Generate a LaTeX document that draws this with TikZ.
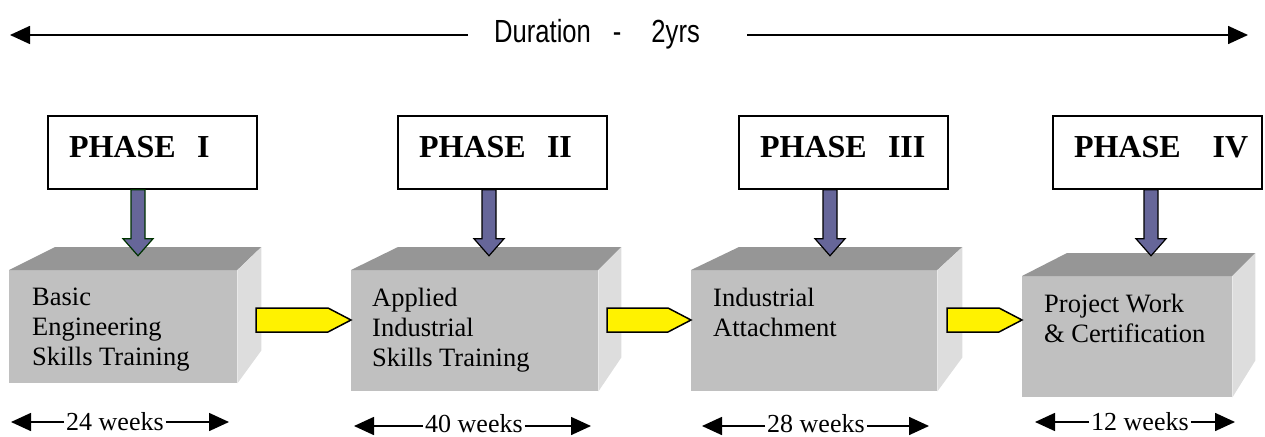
\documentclass[tikz,border=0pt]{standalone}
\usepackage{fontspec}
\usetikzlibrary{arrows.meta,calc}
\setmainfont{Liberation Serif}
\newfontfamily\durfont[FakeStretch=0.8]{Liberation Sans}
\definecolor{frontgrey}{HTML}{C0C0C0}
\definecolor{topgrey}{HTML}{969696}
\definecolor{sidegrey}{HTML}{DDDDDD}
\definecolor{phaseblue}{HTML}{666699}
\definecolor{darkgreen}{RGB}{0,51,0}
\tikzstyle{phase}=[draw,line width=1.5pt,minimum width=209pt,minimum height=73pt,inner xsep=21pt,inner ysep=0pt,text width=167pt,align=left,text height=41pt,text depth=32pt,font=\fontsize{32}{38}\selectfont\bfseries]
\tikzstyle{front}=[fill=frontgrey,anchor=north west,inner sep=0pt]
\tikzstyle{cubetext}=[anchor=north west,inner sep=0pt,align=left,font=\fontsize{26.5}{30}\selectfont]
\tikzstyle{weeks}=[anchor=base west,inner xsep=2pt,inner ysep=0pt,font=\fontsize{26}{30}\selectfont]
\tikzstyle{downarrow}=[fill=phaseblue,draw=black,line width=1.2pt]
\tikzstyle{yellowarrow}=[fill=yellow,draw=black,line width=1.5pt]
\tikzstyle{span}=[line width=1.6pt,-{Triangle[length=20pt,width=18pt]}]
\newcommand{\pxunit}{1pt}

\begin{document}
\begin{tikzpicture}[x=\pxunit,y=-\pxunit]
    \useasboundingbox (0,0) rectangle (1265,436);
%   duration
    \node[anchor=base west,inner sep=0pt,font=\durfont\fontsize{32}{38}\selectfont] (dur) at (494,42) {Duration\hspace{22pt}-\hspace{30pt}2yrs};
    \coordinate (durL) at (10,35);
    \coordinate (durR) at (1248,35);
    \draw[span,shorten <=26pt] (dur.west |- durL) -- (durL);
    \draw[span,shorten <=47pt] (dur.east |- durR) -- (durR);
%   phases
    \node[phase] (p1) at (152.5,152.5) {PHASE\ \ I};
    \node[phase] (p2) at (502.5,152.5) {PHASE\ \ II};
    \node[phase] (p3) at (843.5,152.5) {PHASE\ \ III};
    \node[phase] (p4) at (1157.5,152.5) {\mbox{PHASE\ \ \ IV}};
%   boxes
    \node[front,minimum width=228pt,minimum height=113pt] (f1) at (9,270) {};
    \fill[topgrey] (f1.north west) -- ++(46,-23) -- ($(f1.north east)+(24,-23)$) -- (f1.north east) -- cycle;
    \fill[sidegrey] (f1.north east) -- ++(24,-23) -- ($(f1.south east)+(24,-33)$) -- (f1.south east) -- cycle;
    \node[front,minimum width=247pt,minimum height=121pt] (f2) at (351,270) {};
    \fill[topgrey] (f2.north west) -- ++(47,-23) -- ($(f2.north east)+(23,-23)$) -- (f2.north east) -- cycle;
    \fill[sidegrey] (f2.north east) -- ++(23,-23) -- ($(f2.south east)+(23,-34)$) -- (f2.south east) -- cycle;
    \node[front,minimum width=246pt,minimum height=121pt] (f3) at (691,270) {};
    \fill[topgrey] (f3.north west) -- ++(48,-23) -- ($(f3.north east)+(25,-23)$) -- (f3.north east) -- cycle;
    \fill[sidegrey] (f3.north east) -- ++(25,-23) -- ($(f3.south east)+(25,-34)$) -- (f3.south east) -- cycle;
    \node[front,minimum width=210pt,minimum height=121pt] (f4) at (1022,276) {};
    \fill[topgrey] (f4.north west) -- ++(45,-23) -- ($(f4.north east)+(23,-23)$) -- (f4.north east) -- cycle;
    \fill[sidegrey] (f4.north east) -- ++(23,-23) -- ($(f4.south east)+(23,-37)$) -- (f4.south east) -- cycle;
    \node[cubetext] (c1) at (32,288) {Basic\\Engineering\\Skills Training};
    \node[cubetext] (c2) at (372,288) {Applied\\Industrial\\Skills Training};
    \node[cubetext] (c3) at (713,288) {Industrial\\Attachment};
    \node[cubetext] (c4) at (1044,294) {Project Work\\\& Certification};
%   yellow arrows
    \draw[yellowarrow] (256,308) -- ($(f2.north west)+(-23,38)$) -- ($(f2.north west)+(0,50)$) -- ($(f2.north west)+(-23,62)$) -- (256,332) -- cycle;
    \draw[yellowarrow] (607,308) -- ($(f3.north west)+(-23,38)$) -- ($(f3.north west)+(0,50)$) -- ($(f3.north west)+(-23,62)$) -- (607,332) -- cycle;
    \draw[yellowarrow] (947,308) -- ($(f4.north west)+(-23,32)$) -- ($(f4.north west)+(0,44)$) -- ($(f4.north west)+(-23,56)$) -- (947,332) -- cycle;
%   phase arrows
    \draw[downarrow,draw=darkgreen] ($(p1.south)+(-21.5,0)$) -- ++(0,49) -- ++(-8,0) -- ++(15,17) -- ++(15,-17) -- ++(-8,0) -- ++(0,-49) -- cycle;
    \draw[downarrow] ($(p2.south)+(-20.5,0)$) -- ++(0,49) -- ++(-8,0) -- ++(15,17) -- ++(15,-17) -- ++(-8,0) -- ++(0,-49) -- cycle;
    \draw[downarrow] ($(p3.south)+(-20.5,0)$) -- ++(0,49) -- ++(-8,0) -- ++(15,17) -- ++(15,-17) -- ++(-8,0) -- ++(0,-49) -- cycle;
    \draw[downarrow] ($(p4.south)+(-13.5,0)$) -- ++(0,49) -- ++(-8,0) -- ++(15,17) -- ++(15,-17) -- ++(-8,0) -- ++(0,-49) -- cycle;
%   weeks
    \node[weeks] (w1) at (64,430) {24 weeks};
    \node[weeks] (w2) at (423,432) {40 weeks};
    \node[weeks] (w3) at (765,432) {28 weeks};
    \node[weeks] (w4) at (1089,430) {12 weeks};
    \coordinate (w1L) at (11,422);
    \coordinate (w1R) at (229,422);
    \coordinate (w2L) at (354,426);
    \coordinate (w2R) at (591,426);
    \coordinate (w3L) at (702,426);
    \coordinate (w3R) at (929,426);
    \coordinate (w4L) at (1035,422);
    \coordinate (w4R) at (1235,422);
    \draw[span] (w1.west |- w1L) -- (w1L);
    \draw[span] (w1.east |- w1R) -- (w1R);
    \draw[span] (w2.west |- w2L) -- (w2L);
    \draw[span] (w2.east |- w2R) -- (w2R);
    \draw[span] (w3.west |- w3L) -- (w3L);
    \draw[span] (w3.east |- w3R) -- (w3R);
    \draw[span] (w4.west |- w4L) -- (w4L);
    \draw[span] (w4.east |- w4R) -- (w4R);
\end{tikzpicture}
\end{document}
